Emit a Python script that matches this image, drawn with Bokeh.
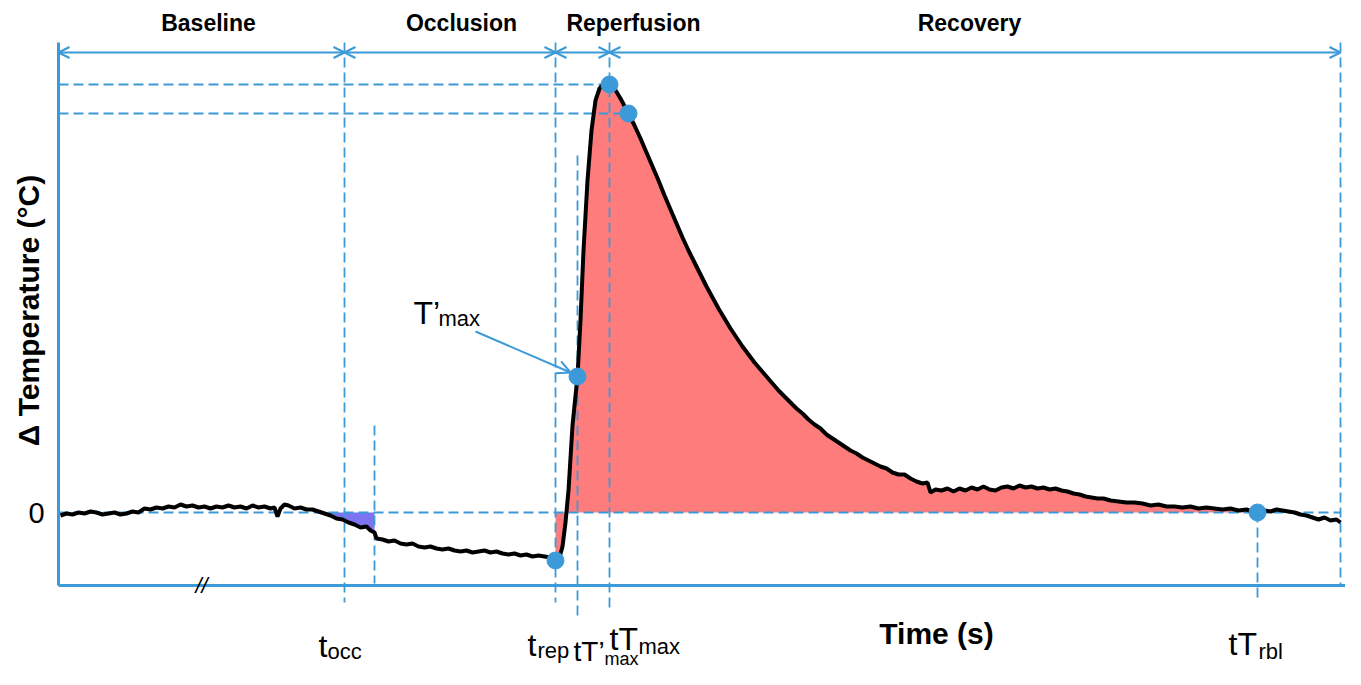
from bokeh.plotting import figure
from bokeh.models import Range1d, Arrow, OpenHead
from bokeh.core.properties import value
from bokeh.embed import file_html
from bokeh.resources import INLINE

# ---------------- data (schematic) ----------------
time_s = [60, 66, 72, 78, 84, 90, 96, 102, 108, 114, 120, 126, 132, 138, 144, 150, 156, 162, 168, 174,
          180, 186, 192, 198, 204, 210, 216, 222, 228, 234, 240, 246, 252, 258, 264, 270, 274, 277, 280, 284,
          288, 294, 300, 306, 312, 318, 324, 330, 336, 342, 348, 354, 360, 366, 370, 374, 376, 382, 388, 394,
          400, 406, 412, 418, 424, 430, 436, 442, 448, 454, 460, 466, 472, 478, 484, 490, 496, 502, 508, 514,
          520, 526, 532, 538, 544, 550, 555, 559, 562, 565, 568, 572, 577, 580, 583, 587, 591, 595, 599, 604,
          609, 614, 620, 628, 634, 640, 646, 652, 658, 664, 670, 676, 682, 688, 694, 700, 706, 712, 718, 724,
          730, 736, 742, 748, 754, 760, 766, 772, 778, 784, 790, 796, 802, 808, 814, 820, 826, 832, 838, 844,
          850, 856, 862, 868, 874, 880, 886, 892, 898, 904, 910, 916, 922, 927, 930, 935, 941, 947, 953, 959,
          965, 971, 977, 983, 989, 995, 1001, 1007, 1013, 1019, 1025, 1031, 1037, 1043, 1049, 1055, 1061, 1067, 1073, 1079,
          1085, 1091, 1097, 1103, 1110, 1118, 1126, 1134, 1142, 1150, 1158, 1166, 1174, 1182, 1190, 1198, 1206, 1214, 1222, 1230,
          1238, 1246, 1252, 1257, 1264, 1270, 1276, 1282, 1288, 1294, 1300, 1306, 1312, 1318, 1324, 1330, 1336, 1340]
delta_temp = [-3, -1, -2, 0, -1, 1, 0, -2, -1, 0, -2, -1, 1, 0, 4, 3, 5, 4, 6, 5,
              8, 6, 7, 5, 6, 4, 6, 5, 7, 5, 6, 4, 7, 5, 6, 4, 5, -4, 4, 8,
              7, 4, 5, 3, 3, 1, -1, -3, -6, -7, -10, -12, -15, -14, -18, -20, -26, -27, -29, -28,
              -31, -32, -31, -34, -35, -34, -36, -37, -36, -38, -39, -38, -40, -39, -38, -40, -39, -41, -42, -41,
              -43, -42, -44, -43, -44, -45, -48, -45, -34, -10, 22, 87, 136, 192, 262, 332, 382, 412, 424, 430,
              428, 424, 414, 399, 387, 374, 360, 346, 332, 317, 303, 289, 275, 262, 250, 238, 226, 215, 204, 194,
              184, 175, 166, 158, 150, 143, 136, 129, 122, 116, 110, 104, 99, 93, 88, 84, 78, 74, 70, 66,
              62, 59, 55, 52, 49, 46, 44, 40, 38, 38, 34, 31, 29, 30, 20, 23, 22, 24, 21, 24,
              22, 25, 23, 26, 23, 22, 25, 26, 24, 27, 25, 26, 24, 25, 23, 24, 22, 21, 19, 18,
              16, 15, 14, 14, 12, 11, 10, 10, 9, 7, 8, 6, 6, 5, 6, 4, 5, 4, 3, 4,
              2, 3, 1, 0, 2, 1, 3, 2, 1, 0, -2, -3, -5, -7, -5, -8, -7, -10]

phase_names = ["Baseline", "Occlusion", "Reperfusion", "Recovery"]
phase_bounds = [58, 344, 555, 609, 1340]          # phase boundary times
t_occ, t_occ_area_end, t_rep, t_dmax, t_max, t_rbl, t_end = 344, 374, 555, 577, 609, 1257, 1340
marker_times = [555, 577, 609, 628, 1257]          # trough, T'max, Tmax, post-peak, return to baseline

BLUE = "#3c9ad8"
FONT = value("Liberation Sans")

p = figure(width=1345, height=669, x_range=Range1d(0, 1345), y_range=Range1d(-157, 512),
           output_backend="svg", toolbar_location=None, min_border=0,
           x_axis_location=None, y_axis_location=None)
p.grid.visible = False
p.outline_line_color = None
p.background_fill_color = "white"

lookup = dict(zip(time_s, delta_temp))

# ---- fills ----
occ = [(t, v) for t, v in zip(time_s, delta_temp) if 324 <= t <= t_occ_area_end]
p.varea(x=[a for a, _ in occ], y1=[0] * len(occ), y2=[b for _, b in occ], fill_color="#7b73f0")
rec = [(t, v) for t, v in zip(time_s, delta_temp) if t_rep <= t <= t_rbl]
p.varea(x=[a for a, _ in rec], y1=[0] * len(rec), y2=[b for _, b in rec], fill_color="#ff7c7c")

# ---- axes drawn as lines ----
p.line(x=[58, 58], y=[470, -73], line_color=BLUE, line_width=3)
p.line(x=[58, 1356], y=[-73, -73], line_color=BLUE, line_width=3)

# ---- dashed guide lines ----
dash = "10 5"
t_peak = lookup[t_max]
t_post = lookup[628]
p.line(x=[58, t_end], y=[0, 0], line_color=BLUE, line_width=1.8, line_dash=dash)
p.line(x=[58, t_max], y=[t_peak, t_peak], line_color=BLUE, line_width=1.8, line_dash=dash)
p.line(x=[58, 628], y=[t_post, t_post], line_color=BLUE, line_width=1.8, line_dash=dash)
p.segment(x0=[t_occ, t_occ_area_end, t_rep, t_dmax, t_max, t_rbl, t_end],
          y0=[470, 87, 470, 357, 470, 0, 470],
          x1=[t_occ, t_occ_area_end, t_rep, t_dmax, t_max, t_rbl, t_end],
          y1=[-90, -71, -90, -106, -100, -90, -73],
          line_color=BLUE, line_width=1.8, line_dash=dash)

# ---- phase arrows ----
for a, b in zip(phase_bounds[:-1], phase_bounds[1:]):
    p.add_layout(Arrow(x_start=a, y_start=460, x_end=b, y_end=460, line_color=BLUE, line_width=2.2,
                       start=OpenHead(size=11, line_color=BLUE, line_width=2.2),
                       end=OpenHead(size=11, line_color=BLUE, line_width=2.2)))

# ---- curve ----
p.line(x=time_s, y=delta_temp, line_color="black", line_width=4)

# ---- markers ----
p.scatter(x=marker_times, y=[lookup[t] for t in marker_times], size=17, fill_color=BLUE, line_color=BLUE)

# ---- T'max annotation arrow ----
p.add_layout(Arrow(x_start=475, y_start=181, x_end=570, y_end=140, line_color=BLUE, line_width=2,
                   end=OpenHead(size=13, line_color=BLUE, line_width=2)))

# ---- texts ----
p.text(x=[208, 461, 633, 969], y=[490] * 4, text=phase_names, text_font=FONT,
       text_font_size="23px", text_font_style="bold", text_align="center", text_baseline="middle")
p.text(x=[28], y=[202], text=["Δ Temperature (°C)"], angle=1.5708, text_font=FONT,
       text_font_size="30px", text_font_style="bold", text_align="center", text_baseline="middle")
p.text(x=[936], y=[-121], text=["Time (s)"], text_font=FONT,
       text_font_size="30px", text_font_style="bold", text_align="center", text_baseline="middle")
p.text(x=[36], y=[0], text=["0"], text_font=FONT, text_font_size="29px",
       text_align="center", text_baseline="middle")
p.text(x=[201], y=[-73], text=["//"], text_font=FONT, text_font_size="22px", text_font_style="italic",
       text_align="center", text_baseline="middle")

# main label parts and subscripts
main_x = [318, 527, 413, 609, 1228]
main_y = [-133, -132, 200, -126, -131]
main_t = ["t", "t", "T’", "tT", "tT"]
p.text(x=main_x, y=main_y, text=main_t, text_font=FONT, text_font_size="32px",
       text_align="left", text_baseline="alphabetic")
sub_x = [327, 537, 438, 638, 1258]
sub_y = [-139, -138, 194, -134, -139]
sub_t = ["occ", "rep", "max", "max", "rbl"]
p.text(x=sub_x, y=sub_y, text=sub_t, text_font=FONT, text_font_size="22px",
       text_align="left", text_baseline="alphabetic")
# tT'max label sits lowest, kept inside the canvas
p.text(x=[573], y=[-139], text=["tT’"], text_font=FONT, text_font_size="28px",
       text_align="left", text_baseline="alphabetic")
p.text(x=[604], y=[-146], text=["max"], text_font=FONT, text_font_size="18px",
       text_align="left", text_baseline="alphabetic")

open("out.html", "w").write(file_html(p, INLINE))
